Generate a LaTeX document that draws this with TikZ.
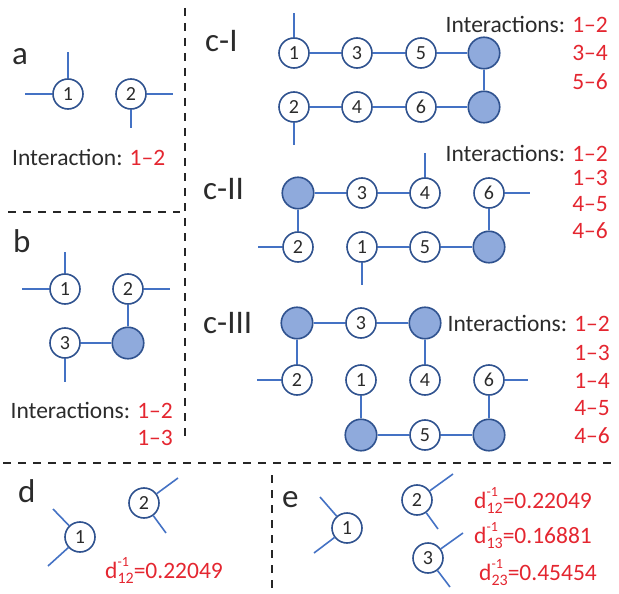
\documentclass[tikz,border=0pt]{standalone}
\usepackage{fontspec}
\setmainfont{Carlito}
\definecolor{lineblue}{HTML}{4472C4}
\definecolor{navy}{HTML}{2F528F}
\definecolor{hubfill}{HTML}{8FAADC}
\definecolor{ired}{RGB}{228,38,48}
\definecolor{txt}{HTML}{2B2B2B}
\newcommand{\dinv}[1]{d\rlap{\raisebox{12pt}{\fontsize{14}{14}\selectfont -1}}\raisebox{-5pt}{\fontsize{16}{16}\selectfont #1}}
\tikzset{
  site/.style={circle, draw=navy, line width=1.6pt, fill=white, minimum size=30pt, inner sep=0pt, font=\fontsize{20}{20}\selectfont, text=txt},
  hub/.style={circle, draw=navy, line width=1.6pt, fill=hubfill, minimum size=31.5pt, inner sep=0pt},
  bond/.style={draw=lineblue, line width=1.6pt},
  cut/.style={draw=black!85, line width=2.5pt, dash pattern=on 8pt off 7pt},
  lbl/.style={font=\fontsize{33}{33}\selectfont, text=txt, inner sep=0pt},
  note/.style={font=\fontsize{23.5}{24}\selectfont, text=txt, inner sep=0pt},
  rnote/.style={note, text=ired},
}
\begin{document}
\begin{tikzpicture}[x=1pt,y=-1pt]
\useasboundingbox (0,0) rectangle (619,594);

% ---------- dividers
\coordinate (v1t) at (185,8); \coordinate (v1b) at (185,440);
\coordinate (hbl) at (8,212); \coordinate (hbr) at (180,212);
\coordinate (hl) at (3,463); \coordinate (hr) at (617,463);
\coordinate (v2t) at (272,475); \coordinate (v2b) at (272,594);
\draw[cut] (v1t) -- (v1b);
\draw[cut] (hbl) -- (hbr);
\draw[cut] (hl) -- (hr);
\draw[cut] (v2t) -- (v2b);

% ---------- panel a
\node[lbl, anchor=base west] (la) at (12,65) {a};
\node[site] (a1) at (68,94) {1};
\node[site] (a2) at (131,94) {2};
\coordinate (a1w) at (25,94); \coordinate (a1n) at (68,52);
\coordinate (a2e) at (173,94); \coordinate (a2s) at (131,128);
\draw[bond] (a1) -- (a1w); \draw[bond] (a1) -- (a1n);
\draw[bond] (a2) -- (a2e); \draw[bond] (a2) -- (a2s);
\node[note, anchor=base west] (ta) at (12,165) {Interaction: \textcolor{ired}{1–2}};

% ---------- panel b
\node[lbl, anchor=base west] (lb) at (13,252) {b};
\node[site] (b1) at (65,289) {1};
\node[site] (b2) at (128,289) {2};
\node[site] (b3) at (65,343) {3};
\node[hub] (bf) at (128,343) {};
\coordinate (b1w) at (22,289); \coordinate (b1n) at (65,252);
\coordinate (b2e) at (170,289); \coordinate (b3s) at (65,382);
\draw[bond] (b1) -- (b1w); \draw[bond] (b1) -- (b1n);
\draw[bond] (b2) -- (b2e); \draw[bond] (b3) -- (b3s);
\draw[bond] (b2) -- (bf); \draw[bond] (b3) -- (bf);
\node[note, anchor=base east] (tb1) at (173,418) {Interactions: \textcolor{ired}{1–2}};
\node[rnote, anchor=base east] (tb2) at (173,445) {1–3};

% ---------- panel c-I
\node[lbl, anchor=base west] (lc1) at (205,52) {c-I};
\node[site] (p1) at (294,53) {1};
\node[site] (p3) at (357,53) {3};
\node[site] (p5) at (421,53) {5};
\node[hub] (pf1) at (484,53) {};
\node[site] (p2) at (294,107) {2};
\node[site] (p4) at (357,107) {4};
\node[site] (p6) at (421,107) {6};
\node[hub] (pf2) at (484,107) {};
\coordinate (p1n) at (294,13); \coordinate (p2s) at (294,145);
\draw[bond] (p1) -- (p1n); \draw[bond] (p2) -- (p2s);
\draw[bond] (p1) -- (p3); \draw[bond] (p3) -- (p5); \draw[bond] (p5) -- (pf1);
\draw[bond] (pf1) -- (pf2);
\draw[bond] (p2) -- (p4); \draw[bond] (p4) -- (p6); \draw[bond] (p6) -- (pf2);
\node[note, anchor=base east] (tc1a) at (608,33) {Interactions: \textcolor{ired}{1–2}};
\node[rnote, anchor=base east] (tc1b) at (608,61) {3–4};
\node[rnote, anchor=base east] (tc1c) at (608,89) {5–6};

% ---------- panel c-II
\node[lbl, anchor=base west] (lc2) at (203,199) {c-II};
\node[hub] (qf1) at (298,193) {};
\node[site] (q3) at (362,193) {3};
\node[site] (q4) at (425,193) {4};
\node[site] (q6) at (489,193) {6};
\node[site] (q2) at (298,247) {2};
\node[site] (q1) at (362,247) {1};
\node[site] (q5) at (425,247) {5};
\node[hub] (qf2) at (489,247) {};
\coordinate (q4n) at (425,153); \coordinate (q6e) at (530,193);
\coordinate (q2w) at (258,247); \coordinate (q1s) at (362,285);
\draw[bond] (q4) -- (q4n); \draw[bond] (q6) -- (q6e);
\draw[bond] (q2) -- (q2w); \draw[bond] (q1) -- (q1s);
\draw[bond] (qf1) -- (q3); \draw[bond] (q3) -- (q4); \draw[bond] (qf1) -- (q2);
\draw[bond] (q1) -- (q5); \draw[bond] (q5) -- (qf2); \draw[bond] (q6) -- (qf2);
\node[note, anchor=base east] (tc2a) at (608,161) {Interactions: \textcolor{ired}{1–2}};
\node[rnote, anchor=base east] (tc2b) at (608,185) {1–3};
\node[rnote, anchor=base east] (tc2c) at (608,211) {4–5};
\node[rnote, anchor=base east] (tc2d) at (608,238) {4–6};

% ---------- panel c-III
\node[lbl, anchor=base west] (lc3) at (203,333) {c-III};
\node[hub] (rf1) at (297,323) {};
\node[site] (r3) at (361,323) {3};
\node[hub] (rf2) at (425,323) {};
\node[site] (r2) at (297,380) {2};
\node[site] (r1) at (361,380) {1};
\node[site] (r4) at (425,380) {4};
\node[site] (r6) at (489,380) {6};
\node[hub] (rf3) at (361,435) {};
\node[site] (r5) at (425,435) {5};
\node[hub] (rf4) at (489,435) {};
\coordinate (r2w) at (257,380); \coordinate (r6e) at (528,380);
\draw[bond] (r2) -- (r2w); \draw[bond] (r6) -- (r6e);
\draw[bond] (rf1) -- (r3); \draw[bond] (r3) -- (rf2);
\draw[bond] (rf1) -- (r2); \draw[bond] (rf2) -- (r4);
\draw[bond] (r1) -- (rf3); \draw[bond] (rf3) -- (r5); \draw[bond] (r5) -- (rf4);
\draw[bond] (r6) -- (rf4);
\node[note, anchor=base east] (tc3a) at (610,331) {Interactions: \textcolor{ired}{1–2}};
\node[rnote, anchor=base east] (tc3b) at (610,360) {1–3};
\node[rnote, anchor=base east] (tc3c) at (610,388) {1–4};
\node[rnote, anchor=base east] (tc3d) at (610,415) {4–5};
\node[rnote, anchor=base east] (tc3e) at (610,443) {4–6};

% ---------- panel d
\node[lbl, anchor=base west] (ld) at (18,502) {d};
\node[site] (d1) at (80,537) {1};
\node[site] (d2) at (144,503) {2};
\coordinate (d1a) at (53,509); \coordinate (d1b) at (48,566);
\coordinate (d2a) at (178,478); \coordinate (d2b) at (166,533);
\draw[bond] (d1) -- (d1a); \draw[bond] (d1) -- (d1b);
\draw[bond] (d2) -- (d2a); \draw[bond] (d2) -- (d2b);
\node[rnote, anchor=base west] (td) at (105,578) {\dinv{12}=0.22049};

% ---------- panel e
\node[lbl, anchor=base west] (le) at (282,507) {e};
\node[site] (e1) at (347,528) {1};
\node[site] (e2) at (417,500) {2};
\node[site] (e3) at (428,558) {3};
\coordinate (e1a) at (320,497); \coordinate (e1b) at (314,553);
\coordinate (e2a) at (453,474); \coordinate (e2b) at (438,529);
\coordinate (e3a) at (463,533); \coordinate (e3b) at (450,587);
\draw[bond] (e1) -- (e1a); \draw[bond] (e1) -- (e1b);
\draw[bond] (e2) -- (e2a); \draw[bond] (e2) -- (e2b);
\draw[bond] (e3) -- (e3a); \draw[bond] (e3) -- (e3b);
\node[rnote, anchor=base west] (te1) at (474,508) {\dinv{12}=0.22049};
\node[rnote, anchor=base west] (te2) at (474,543) {\dinv{13}=0.16881};
\node[rnote, anchor=base west] (te3) at (479,580) {\dinv{23}=0.45454};
\end{tikzpicture}
\end{document}
